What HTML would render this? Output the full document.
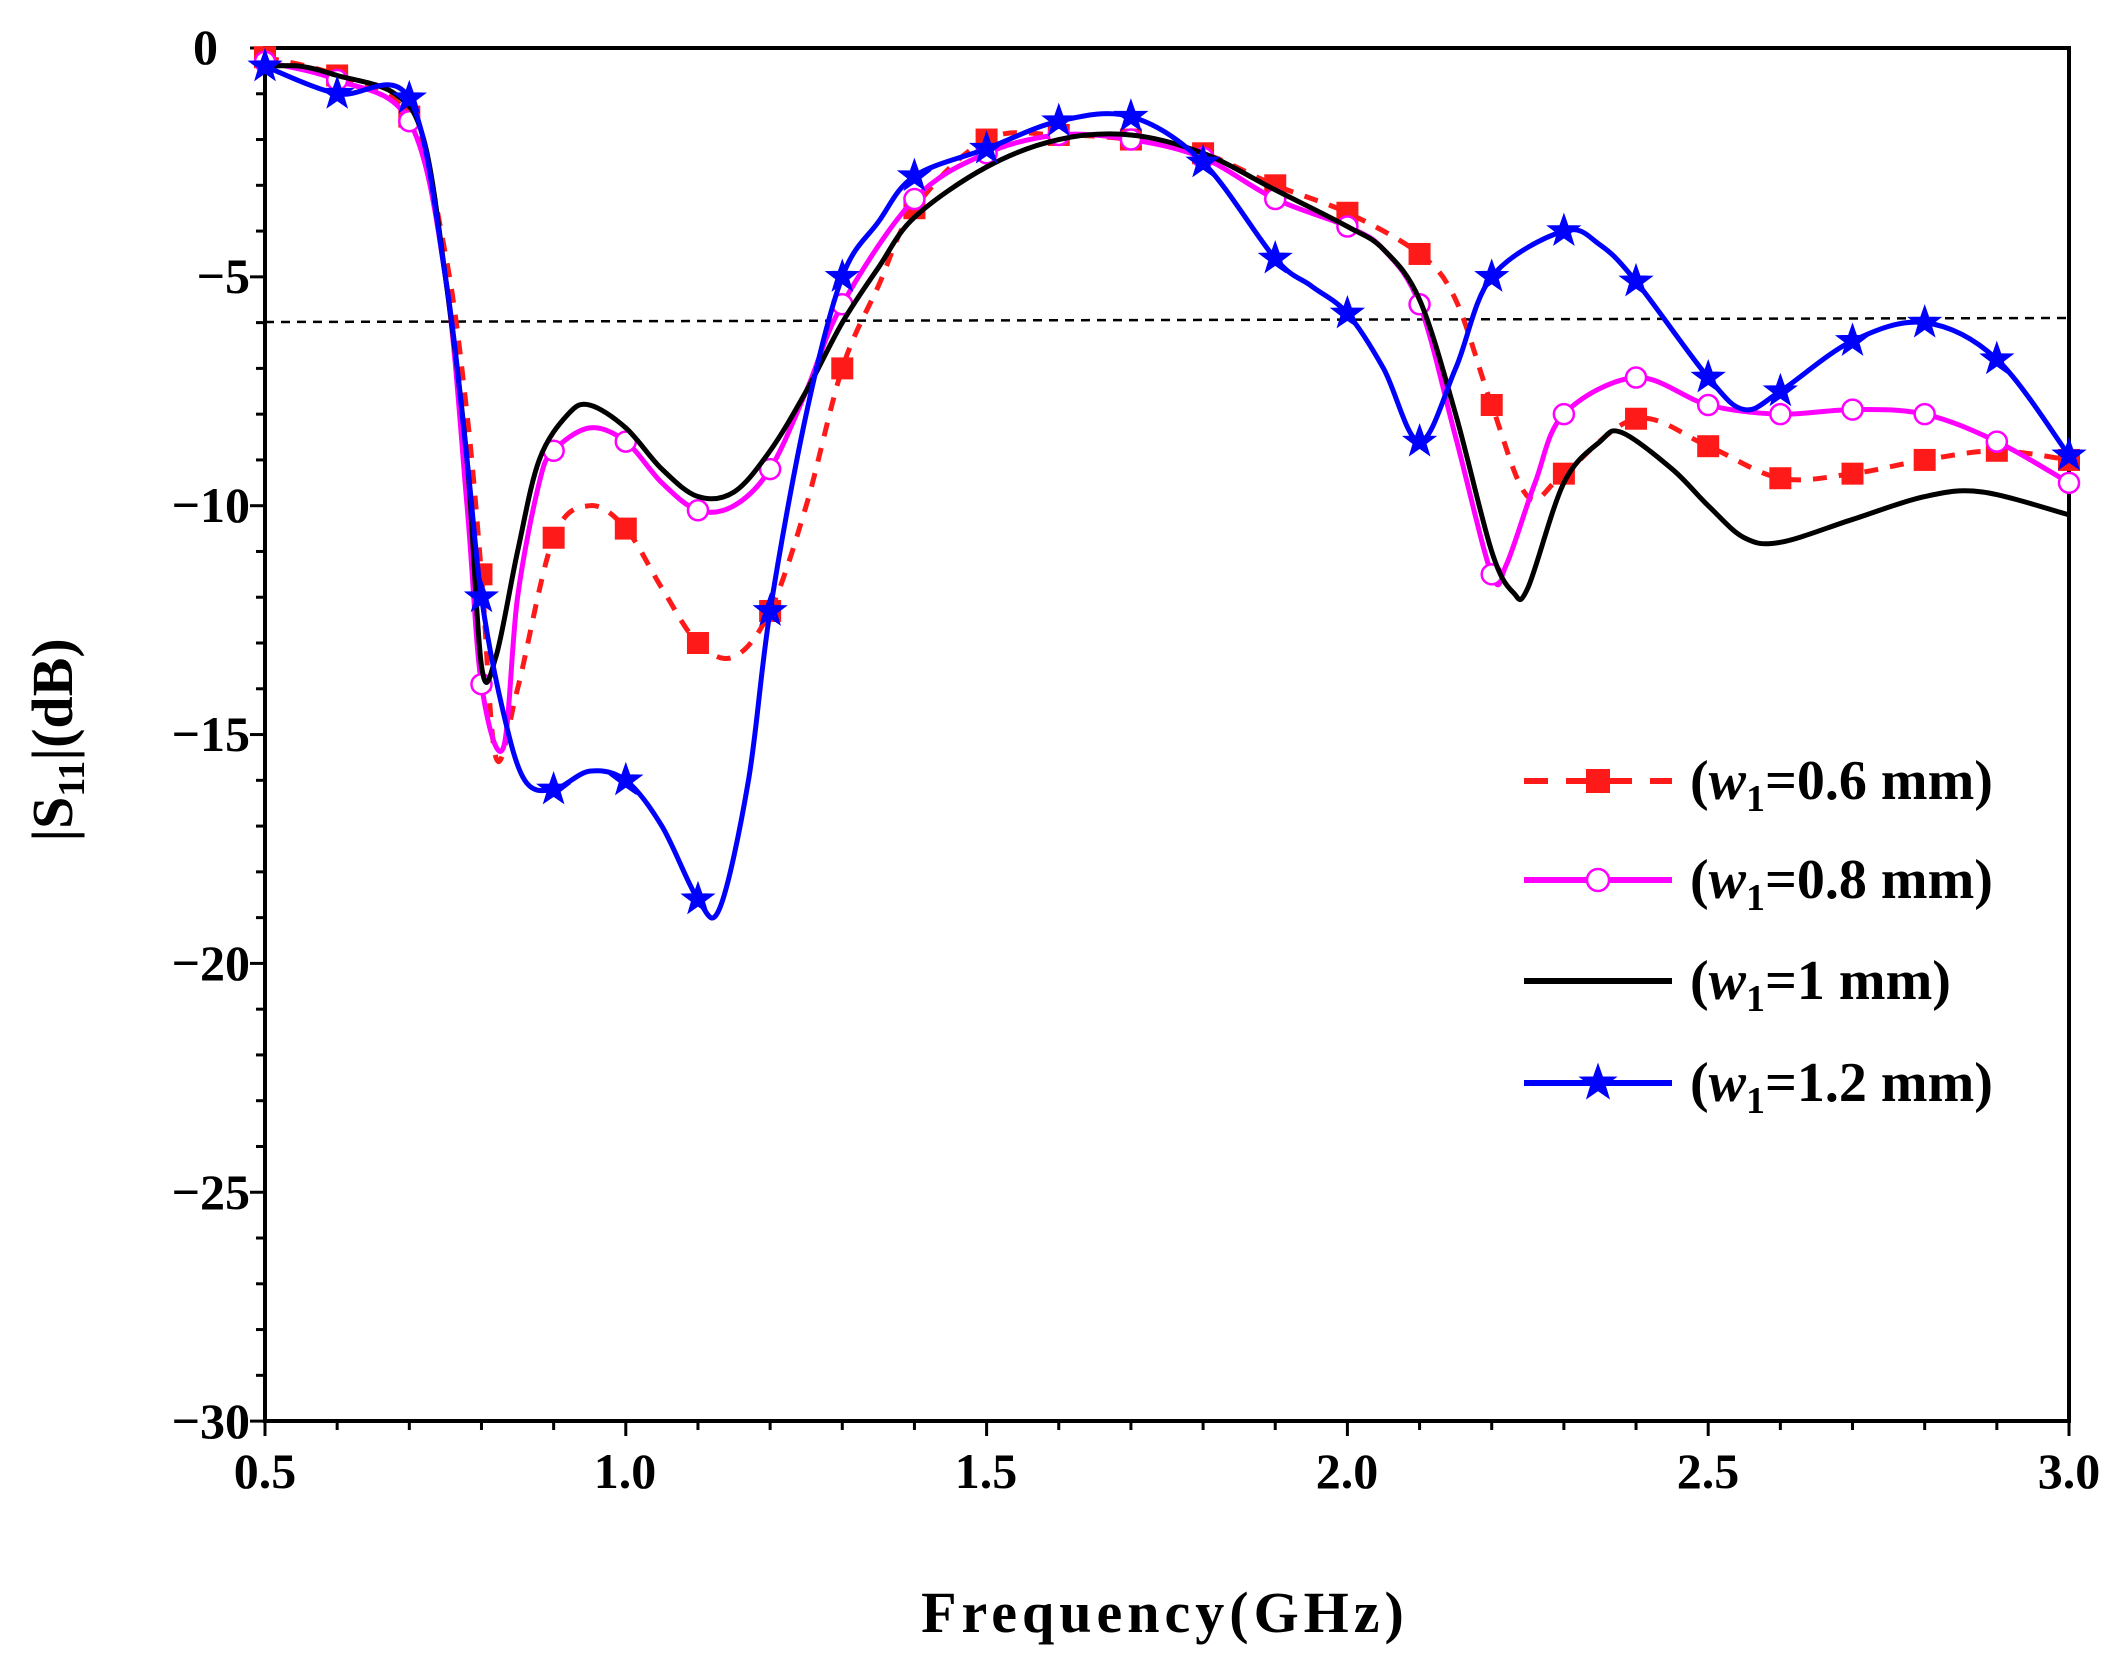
<!DOCTYPE html>
<html><head><meta charset="utf-8"><style>
html,body{margin:0;padding:0;background:#fff;}
svg{display:block;}
text{font-family:"Liberation Serif",serif;font-weight:bold;fill:#000;}
</style></head><body>
<svg id="s" width="2122" height="1667" viewBox="0 0 2122 1667" xmlns="http://www.w3.org/2000/svg">
<rect x="265" y="48" width="1804" height="1373" fill="none" stroke="#000" stroke-width="4"/>
<g id="ticks" stroke="#000" stroke-width="3"></g>
<line x1="265" y1="322" x2="2069" y2="318" stroke="#000" stroke-width="2.5" stroke-dasharray="9,7"/>
<g id="series"></g>
<g font-size="50" text-anchor="end">
<text x="218" y="64">0</text>
<text x="250" y="293">−5</text>
<text x="250" y="522">−10</text>
<text x="250" y="751">−15</text>
<text x="250" y="980">−20</text>
<text x="250" y="1209">−25</text>
<text x="250" y="1438">−30</text>
</g>
<g font-size="50" text-anchor="middle">
<text x="265" y="1488">0.5</text>
<text x="625" y="1488">1.0</text>
<text x="986" y="1488">1.5</text>
<text x="1347" y="1488">2.0</text>
<text x="1708" y="1488">2.5</text>
<text x="2069" y="1488">3.0</text>
</g>
<text x="1165" y="1632" font-size="58" text-anchor="middle" letter-spacing="5">Frequency(GHz)</text>
<text transform="translate(72,740) rotate(-90)" font-size="58" text-anchor="middle">|S<tspan font-size="38" dy="12">11</tspan><tspan dy="-12">|(dB)</tspan></text>
<g id="legend" font-size="56"></g>
</svg>
<script>
const X=f=>265+(f-0.5)*721.6, Y=d=>48-d*45.77;
const NS="http://www.w3.org/2000/svg";
function el(t,a,p){const e=document.createElementNS(NS,t);for(const k in a)e.setAttribute(k,a[k]);p.appendChild(e);return e;}
const tk=document.getElementById('ticks');
for(let i=0;i<=25;i++){const x=X(0.5+i*0.1);el('line',{x1:x,y1:1421,x2:x,y2:i%5?1430:1436},tk);}
for(let i=0;i<=30;i++){const y=Y(-i);el('line',{x1:265,y1:y,x2:i%5?256:250,y2:y},tk);}
const red=[[0.5,-0.2],[0.6,-0.6],[0.7,-1.5],[0.75,-4.5],[0.78,-8],[0.8,-11.5],[0.82,-15.5],[0.85,-14],[0.9,-10.7],[0.95,-10],[1.0,-10.5],[1.05,-11.8],[1.1,-13],[1.15,-13.3],[1.2,-12.3],[1.25,-10],[1.3,-7],[1.35,-5.2],[1.4,-3.5],[1.5,-2],[1.6,-1.9],[1.7,-2],[1.8,-2.3],[1.9,-3],[2.0,-3.6],[2.1,-4.5],[2.15,-5.5],[2.2,-7.8],[2.25,-9.8],[2.3,-9.3],[2.4,-8.1],[2.5,-8.7],[2.6,-9.4],[2.7,-9.3],[2.8,-9],[2.9,-8.8],[3.0,-9]];
const mag=[[0.5,-0.3],[0.6,-0.7],[0.7,-1.6],[0.75,-5],[0.78,-10],[0.8,-13.9],[0.83,-15.3],[0.85,-12],[0.88,-9.5],[0.9,-8.8],[0.95,-8.3],[1.0,-8.6],[1.05,-9.5],[1.1,-10.1],[1.15,-10],[1.2,-9.2],[1.25,-7.5],[1.3,-5.6],[1.4,-3.3],[1.5,-2.3],[1.6,-1.9],[1.7,-2],[1.8,-2.4],[1.9,-3.3],[2.0,-3.9],[2.05,-4.4],[2.1,-5.6],[2.15,-8.5],[2.2,-11.5],[2.22,-11.3],[2.26,-9.5],[2.3,-8],[2.4,-7.2],[2.5,-7.8],[2.6,-8],[2.7,-7.9],[2.8,-8],[2.9,-8.6],[3.0,-9.5]];
const blk=[[0.5,-0.4],[0.55,-0.4],[0.6,-0.6],[0.68,-1.0],[0.72,-2],[0.75,-5],[0.78,-9],[0.8,-13.5],[0.82,-13.3],[0.85,-11],[0.88,-9],[0.92,-8],[0.95,-7.8],[1.0,-8.3],[1.05,-9.2],[1.1,-9.8],[1.15,-9.7],[1.2,-8.8],[1.25,-7.5],[1.3,-6],[1.35,-4.8],[1.4,-3.7],[1.5,-2.6],[1.6,-2],[1.7,-1.9],[1.8,-2.3],[1.9,-3.1],[2.0,-3.9],[2.05,-4.4],[2.1,-5.5],[2.15,-8],[2.2,-11],[2.23,-11.9],[2.25,-11.8],[2.3,-9.5],[2.35,-8.6],[2.38,-8.4],[2.45,-9.2],[2.5,-10],[2.55,-10.7],[2.6,-10.8],[2.7,-10.3],[2.8,-9.8],[2.88,-9.7],[3.0,-10.2]];
const blu=[[0.5,-0.4],[0.6,-1],[0.7,-1.1],[0.75,-5],[0.78,-9],[0.8,-12],[0.83,-14.5],[0.86,-16],[0.9,-16.2],[0.95,-15.8],[1.0,-16],[1.05,-17],[1.1,-18.6],[1.13,-18.8],[1.17,-16],[1.2,-12.3],[1.25,-8],[1.3,-5],[1.35,-3.8],[1.4,-2.8],[1.5,-2.2],[1.6,-1.6],[1.7,-1.5],[1.8,-2.5],[1.9,-4.6],[1.95,-5.2],[2.0,-5.8],[2.05,-7],[2.1,-8.6],[2.15,-7],[2.2,-5],[2.3,-4],[2.35,-4.3],[2.4,-5.1],[2.5,-7.2],[2.55,-7.9],[2.6,-7.5],[2.7,-6.4],[2.8,-6],[2.9,-6.8],[3.0,-8.9]];
function path(d){const p=d.map(([f,v])=>[X(f),Y(v)]);let s=`M${p[0][0]},${p[0][1]}`;
for(let i=0;i<p.length-1;i++){const p0=p[Math.max(0,i-1)],p1=p[i],p2=p[i+1],p3=p[Math.min(p.length-1,i+2)];
s+=` C${p1[0]+(p2[0]-p0[0])/6},${p1[1]+(p2[1]-p0[1])/6} ${p2[0]-(p3[0]-p1[0])/6},${p2[1]-(p3[1]-p1[1])/6} ${p2[0]},${p2[1]}`;}return s;}
function interp(d,f){for(let i=0;i<d.length-1;i++)if(f>=d[i][0]-1e-9&&f<=d[i+1][0]+1e-9){const t=(f-d[i][0])/(d[i+1][0]-d[i][0]);return d[i][1]+t*(d[i+1][1]-d[i][1]);}return d[d.length-1][1];}
function star(cx,cy,r,c,g){let pts=[];for(let i=0;i<10;i++){const a=-Math.PI/2+i*Math.PI/5,rr=i%2?r*0.4:r;pts.push((cx+rr*Math.cos(a)).toFixed(1)+','+(cy+rr*Math.sin(a)).toFixed(1));}el('polygon',{points:pts.join(' '),fill:c,stroke:c,'stroke-width':1},g);}
const g=document.getElementById('series');
const sers=[[red,'#ff1a1a','14,12','sq'],[mag,'#ff00ff','','ci'],[blk,'#000','',''],[blu,'#0000ff','','st']];
sers.forEach(([d,c,da,m])=>{const a={d:path(d),fill:'none',stroke:c,'stroke-width':5};if(da)a['stroke-dasharray']=da;el('path',a,g);
if(m)for(let i=0;i<=25;i++){const f=0.5+i*0.1,x=X(f),y=Y(interp(d,f));
if(m=='sq')el('rect',{x:x-11,y:y-11,width:22,height:22,fill:c},g);
if(m=='ci')el('circle',{cx:x,cy:y,r:10,fill:'#fff',stroke:c,'stroke-width':2.5},g);
if(m=='st')star(x,y,17,c,g);}});
const lg=document.getElementById('legend');
const labs=['0.6','0.8','1','1.2'];
sers.forEach(([d,c,da,m],i)=>{const y=[781,880,981,1083][i];const a={x1:1524,y1:y,x2:1672,y2:y,stroke:c,'stroke-width':6};if(da)a['stroke-dasharray']='24,18';el('line',a,lg);
const x=1598;if(m=='sq')el('rect',{x:x-12,y:y-12,width:24,height:24,fill:c},lg);if(m=='ci')el('circle',{cx:x,cy:y,r:11,fill:'#fff',stroke:c,'stroke-width':2.5},lg);if(m=='st')star(x,y,19,c,lg);
const t=el('text',{x:1690,y:y+18},lg);t.innerHTML=`(<tspan font-style="italic">w</tspan><tspan font-size="38" dy="12">1</tspan><tspan dy="-12">=${labs[i]} mm)</tspan>`;});
</script>
</body></html>
